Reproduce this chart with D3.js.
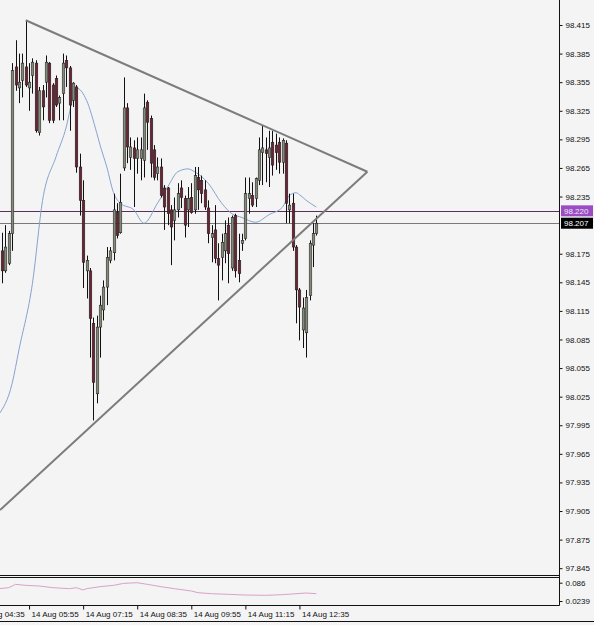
<!DOCTYPE html>
<html><head><meta charset="utf-8">
<script src="https://cdn.jsdelivr.net/npm/d3@7/dist/d3.min.js"></script>
<style>html,body{margin:0;padding:0;background:#f4f4f4;}svg{display:block}</style>
</head><body><svg id="c" width="594" height="625"></svg>
<script>
// ---- data ----
const opens = [98.178,98.157,98.165,98.196,98.371,98.349,98.357,98.371,98.349,98.362,
98.375,98.302,98.346,98.355,98.375,98.352,98.359,98.333,98.343,98.378,
98.370,98.336,98.350,98.266,98.231,98.157,98.157,98.102,98.028,98.098,
98.116,98.140,98.168,98.176,98.218,98.197,98.265,98.328,98.276,98.286,
98.275,98.275,98.273,98.334,98.317,98.284,98.259,98.266,98.244,98.244,
98.221,98.210,98.221,98.244,98.233,98.221,98.234,98.221,98.255,98.252,
98.242,98.223,98.192,98.200,98.170,98.171,98.178,98.205,98.160,98.215,
98.168,98.186,98.191,98.233,98.236,98.233,98.252,98.281,98.284,98.276,
98.292,98.289,98.292,98.271,98.291,98.221,98.228,98.182,98.137,98.095,
98.092,98.131,98.184,98.196];
const highs = [98.197,98.205,98.199,98.375,98.399,98.385,98.385,98.420,98.375,98.380,
98.378,98.350,98.352,98.383,98.376,98.354,98.362,98.341,98.385,98.383,
98.372,98.355,98.352,98.280,98.252,98.173,98.160,98.108,98.110,98.131,
98.147,98.182,98.182,98.238,98.228,98.259,98.360,98.333,98.297,98.294,
98.297,98.297,98.343,98.336,98.320,98.289,98.276,98.275,98.247,98.245,
98.226,98.234,98.249,98.252,98.236,98.245,98.249,98.266,98.266,98.257,
98.252,98.231,98.205,98.226,98.186,98.196,98.210,98.213,98.215,98.217,
98.196,98.196,98.255,98.255,98.250,98.255,98.297,98.310,98.297,98.304,
98.304,98.301,98.297,98.296,98.294,98.238,98.238,98.184,98.139,98.129,
98.137,98.189,98.207,98.215];
const lows = [98.144,98.155,98.163,98.178,98.346,98.333,98.339,98.350,98.325,98.343,
98.302,98.299,98.315,98.339,98.312,98.312,98.329,98.315,98.315,98.350,
98.304,98.329,98.260,98.215,98.139,98.128,98.066,98.000,98.018,98.066,
98.105,98.121,98.165,98.168,98.191,98.196,98.262,98.270,98.263,98.224,
98.259,98.252,98.255,98.284,98.255,98.252,98.252,98.234,98.200,98.205,
98.163,98.189,98.213,98.223,98.192,98.203,98.217,98.217,98.221,98.228,
98.221,98.186,98.166,98.165,98.126,98.147,98.165,98.144,98.157,98.150,
98.145,98.178,98.189,98.217,98.224,98.224,98.247,98.247,98.250,98.245,
98.257,98.263,98.259,98.259,98.207,98.207,98.178,98.102,98.084,98.076,
98.066,98.126,98.161,98.194];
const closes = [98.157,98.182,98.196,98.367,98.352,98.355,98.375,98.352,98.355,98.376,
98.304,98.346,98.329,98.376,98.315,98.315,98.331,98.339,98.375,98.370,
98.331,98.354,98.266,98.231,98.166,98.168,98.107,98.040,98.098,98.121,
98.140,98.171,98.178,98.221,98.194,98.229,98.328,98.287,98.287,98.275,
98.284,98.284,98.328,98.313,98.270,98.255,98.266,98.236,98.224,98.217,
98.203,98.221,98.238,98.234,98.205,98.233,98.218,98.257,98.242,98.238,
98.224,98.196,98.196,98.170,98.163,98.187,98.196,98.175,98.213,98.157,
98.154,98.189,98.238,98.238,98.226,98.254,98.284,98.286,98.280,98.286,
98.268,98.281,98.271,98.294,98.228,98.226,98.182,98.137,98.119,98.118,
98.129,98.186,98.196,98.207];

const maBars   = [-1,3,5,9,12,16,19,21,22,25,28,29,31,33,35,39,42,46,49,52,55,57,61,65,68,71,75,79,83,85,87,88,90,93];
const maValues = [98.006,98.039,98.074,98.144,98.231,98.277,98.308,98.339,98.349,98.336,98.302,98.289,98.266,98.239,98.228,98.221,98.207,98.228,98.245,98.261,98.264,98.261,98.249,98.228,98.217,98.213,98.208,98.216,98.224,98.236,98.239,98.237,98.231,98.224];

const oscBars   = [-1,2,4,7,11,15,20,22,24,25,29,33,36,40,43,47,51,56,58,62,67,72,78,83,87,90,93];
const oscValues = [0.0657,0.0691,0.0804,0.0770,0.0747,0.0691,0.0657,0.0691,0.0612,0.0657,0.0725,0.0770,0.0837,0.0860,0.0804,0.0725,0.0657,0.0578,0.0521,0.0487,0.0465,0.0442,0.0431,0.0454,0.0487,0.0510,0.0487];

const priceTicks = [98.415,98.385,98.355,98.325,98.295,98.265,98.235,98.175,98.145,98.115,98.085,98.055,98.025,97.995,97.965,97.935,97.905,97.875,97.845];
const oscTicks = [0.086, 0.0239];
const oscTickLabels = ["0.086", "0.0239"];
const timeTickBars = [-8, 8, 24, 40, 56, 72, 88];
const timeTickLabels = ["14 Aug 04:35","14 Aug 05:55","14 Aug 07:15","14 Aug 08:35","14 Aug 09:55","14 Aug 11:15","14 Aug 12:35"];

const upperTrendBars = [7, 108.1];
const upperTrendPrices = [98.420, 98.261];
const lowerTrendBars = [-0.6, 108.1];
const lowerTrendPrices = [97.906, 98.261];

const alertLevel = 98.220;
const bidLevel = closes[closes.length - 1];

// ---- layout ----
const W = 594, H = 625, axisX = 559, mainBottom = 575, oscTop = 577, oscBottom = 605;
const FONT = "'Liberation Sans', Arial, sans-serif";

const svg = d3.select("#c");
svg.append("rect").attr("width", W).attr("height", H).attr("fill", "#f4f4f4");

const x = d3.scaleLinear().domain([-0.6, 164.8]).range([0, axisX]);
const y = d3.scaleLinear().domain([97.845, 98.415]).range([568.2, 25]);
const yo = d3.scaleLinear().domain([0.0239, 0.086]).range([601, 582.7]);

const defs = svg.append("defs");
defs.append("clipPath").attr("id", "mainClip").append("rect")
  .attr("x", 0).attr("y", 0).attr("width", axisX).attr("height", mainBottom);
defs.append("clipPath").attr("id", "oscClip").append("rect")
  .attr("x", 0).attr("y", oscTop).attr("width", axisX).attr("height", oscBottom - oscTop);

const main = svg.append("g").attr("clip-path", "url(#mainClip)");

// horizontal levels
main.append("line").attr("x1", 0).attr("x2", axisX)
  .attr("y1", Math.round(y(alertLevel)) + 0.5).attr("y2", Math.round(y(alertLevel)) + 0.5)
  .attr("stroke", "#5b2f5a").attr("stroke-width", 1);
main.append("line").attr("x1", 0).attr("x2", axisX)
  .attr("y1", Math.round(y(bidLevel)) + 0.5).attr("y2", Math.round(y(bidLevel)) + 0.5)
  .attr("stroke", "#7a7a7a").attr("stroke-width", 1);

// moving average
const maData = maBars.map((b, i) => [b, maValues[i]]);
main.append("path").datum(maData)
  .attr("d", d3.line().x(d => x(d[0])).y(d => y(d[1])).curve(d3.curveMonotoneX))
  .attr("fill", "none").attr("stroke", "#88a2cf").attr("stroke-width", 1);

// candles
const idx = d3.range(closes.length);
const bullCol = "#848a78", bearCol = "#6a2433";
main.append("g").selectAll("line").data(idx).join("line")
  .attr("x1", i => Math.round(x(i)) + 0.5).attr("x2", i => Math.round(x(i)) + 0.5)
  .attr("y1", i => y(highs[i])).attr("y2", i => y(lows[i]))
  .attr("stroke", "#111").attr("stroke-width", 1);
main.append("g").selectAll("rect").data(idx).join("rect")
  .attr("x", i => Math.round(x(i)) + 0.5 - 1.3)
  .attr("width", 2.6)
  .attr("y", i => y(Math.max(opens[i], closes[i])))
  .attr("height", i => Math.max(1, Math.abs(y(opens[i]) - y(closes[i]))))
  .attr("fill", i => closes[i] >= opens[i] ? bullCol : bearCol)
  .attr("stroke", "#1a1a1a").attr("stroke-width", 0.5);

// triangle trendlines
const tl = d3.line().x(d => x(d[0])).y(d => y(d[1]));
main.append("path").datum(upperTrendBars.map((b, i) => [b, upperTrendPrices[i]]))
  .attr("d", tl).attr("fill", "none").attr("stroke", "#7c7c7c").attr("stroke-width", 2);
main.append("path").datum(lowerTrendBars.map((b, i) => [b, lowerTrendPrices[i]]))
  .attr("d", tl).attr("fill", "none").attr("stroke", "#7c7c7c").attr("stroke-width", 2);

// oscillator sub-window
const osc = svg.append("g").attr("clip-path", "url(#oscClip)");
osc.append("path").datum(oscBars.map((b, i) => [b, oscValues[i]]))
  .attr("d", d3.line().x(d => x(d[0])).y(d => yo(d[1])))
  .attr("fill", "none").attr("stroke", "#d8a2c9").attr("stroke-width", 1);

// frames
const frame = svg.append("g").attr("stroke", "#111").attr("stroke-width", 1);
frame.append("line").attr("x1", axisX + 0.5).attr("x2", axisX + 0.5).attr("y1", 0).attr("y2", oscBottom + 0.5);
frame.append("line").attr("x1", 0).attr("x2", axisX + 0.5).attr("y1", mainBottom + 0.5).attr("y2", mainBottom + 0.5);
frame.append("line").attr("x1", 0).attr("x2", axisX + 0.5).attr("y1", oscTop + 0.5).attr("y2", oscTop + 0.5);
frame.append("line").attr("x1", 0).attr("x2", axisX + 0.5).attr("y1", oscBottom + 0.5).attr("y2", oscBottom + 0.5);
frame.append("line").attr("x1", 0).attr("x2", W).attr("y1", 621.5).attr("y2", 621.5);

// price axis
const pAxis = svg.append("g").attr("transform", `translate(${axisX + 0.5},0)`)
  .call(d3.axisRight(y).tickValues(priceTicks).tickSize(3).tickPadding(3).tickFormat(d3.format(".3f")));
pAxis.select(".domain").remove();
pAxis.selectAll("line").attr("stroke", "#111");
pAxis.selectAll("text").attr("font-family", FONT).attr("font-size", 8).attr("fill", "#111");

// oscillator axis
const oAxis = svg.append("g").attr("transform", `translate(${axisX + 0.5},0)`)
  .call(d3.axisRight(yo).tickValues(oscTicks).tickSize(3).tickPadding(3).tickFormat((d, i) => oscTickLabels[i]));
oAxis.select(".domain").remove();
oAxis.selectAll("line").attr("stroke", "#111");
oAxis.selectAll("text").attr("font-family", FONT).attr("font-size", 8).attr("fill", "#111");

// time axis
const tAxis = svg.append("g").attr("transform", `translate(0,${oscBottom + 0.5})`)
  .call(d3.axisBottom(x).tickValues(timeTickBars).tickSize(4).tickPadding(3).tickFormat((d, i) => timeTickLabels[i]));
tAxis.select(".domain").remove();
tAxis.selectAll("line").attr("stroke", "#111");
tAxis.selectAll("text").attr("font-family", FONT).attr("font-size", 8).attr("fill", "#111")
  .attr("text-anchor", "start").attr("dx", 2).attr("dy", "0.6em");

// level labels
function levelLabel(v, fill, textCol) {
  const cy = y(v);
  svg.append("rect").attr("x", axisX + 2).attr("y", cy - 5.5).attr("width", 32).attr("height", 11).attr("fill", fill);
  svg.append("text").attr("x", axisX + 5).attr("y", cy).attr("dy", "0.35em")
    .attr("font-family", FONT).attr("font-size", 8).attr("fill", textCol).text(d3.format(".3f")(v));
}
levelLabel(alertLevel, "#9b4cc4", "#f0e6f6");
levelLabel(bidLevel, "#000000", "#ffffff");
</script></body></html>
